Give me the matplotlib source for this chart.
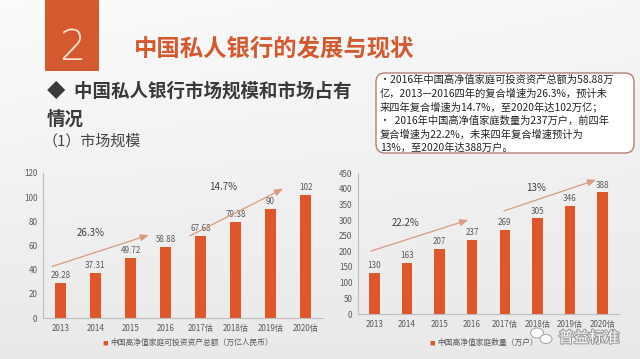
import matplotlib
matplotlib.use("Agg")
import matplotlib.pyplot as plt
import numpy as np
from matplotlib.patches import FancyBboxPatch, Rectangle, Ellipse
import matplotlib.patheffects as pe

plt.rcParams['font.family'] = ['Noto Sans CJK SC', 'DejaVu Sans']

# ---- data ----
years = ['2013', '2014', '2015', '2016', '2017估', '2018估', '2019估', '2020估']
assets = [29.28, 37.31, 49.72, 58.88, 67.68, 79.38, 90, 102]
asset_labels = ['29.28', '37.31', '49.72', '58.88', '67.68', '79.38', '90', '102']
households = [130, 163, 207, 237, 269, 305, 346, 388]
household_labels = ['130', '163', '207', '237', '269', '305', '346', '388']
asset_yticks = [0, 20, 40, 60, 80, 100, 120]
household_yticks = [0, 50, 100, 150, 200, 250, 300, 350, 400, 450]
asset_growth = ['26.3%', '14.7%']
household_growth = ['22.2%', '13%']
asset_legend = '中国高净值家庭可投资资产总额（万亿人民币）'
household_legend = '中国高净值家庭数量（万户）'

title = '中国私人银行的发展与现状'
heading1 = '◆  中国私人银行市场规模和市场占有'
heading2 = '情况'
sub = '（1）市场规模'
box_lines = [
    '•2016年中国高净值家庭可投资资产总额为58.88万',
    '亿，2013—2016四年的复合增速为26.3%，预计未',
    '来四年复合增速为14.7%，至2020年达102万亿；',
    '•  2016年中国高净值家庭数量为237万户，前四年',
    '复合增速为22.2%，未来四年复合增速预计为',
    '13%，至2020年达388万户。',
]

BAR = '#E0562B'
ORANGE = '#D5592E'
ARROW = '#D99A80'
GRAY = '#595959'

W, H = 640, 359
fig = plt.figure(figsize=(6.4, 3.59), dpi=100)

# background gradient
bg = fig.add_axes([0, 0, 1, 1])
bg.set_xlim(0, W)
bg.set_ylim(H, 0)
bg.axis('off')
yy = np.linspace(0, 1, 200)[:, None]
xx = np.linspace(0, 1, 200)[None, :]
grad = 0.985 - 0.07 * yy - 0.02 * xx * (1 - yy)
bg.imshow(np.dstack([grad] * 3), extent=[0, W, H, 0], aspect='auto', zorder=0)

# orange number box
bg.add_patch(Rectangle((45, 0), 54, 71, facecolor=ORANGE, edgecolor='none', zorder=1))
bg.text(72, 47, '2', color='#F6E0D6', fontsize=30, ha='center', va='center',
        family=['DejaVu Sans'], fontweight='light', zorder=2)
bg.text(134, 48, title, color=ORANGE, fontsize=16.8, fontweight='bold',
        ha='left', va='center', zorder=2)
bg.text(47, 91, heading1, color='#3a3a3a', fontsize=13.3, fontweight='bold',
        ha='left', va='center', zorder=2)
bg.text(47, 119, heading2, color='#3a3a3a', fontsize=13.3, fontweight='bold',
        ha='left', va='center', zorder=2)
bg.text(43, 141, sub, color='#444444', fontsize=10.8, ha='left', va='center', zorder=2)

# text box
bg.add_patch(FancyBboxPatch((376, 73), 258, 80, boxstyle='round,pad=0,rounding_size=9',
                            facecolor='white', edgecolor='#B27F70', linewidth=1.0, zorder=1))
for i, ln in enumerate(box_lines):
    bg.text(380, 80 + i * 13.6, ln, fontsize=7.4, color='#222222', ha='left',
            va='center', zorder=2)

# watermark
bg.add_patch(Ellipse((537, 333), 13, 10, facecolor='white', edgecolor='#aaaaaa', lw=0.8, zorder=5))
bg.add_patch(Ellipse((546, 339), 12, 9, facecolor='white', edgecolor='#aaaaaa', lw=0.8, zorder=5))
bg.text(589, 338, '普益标准', fontsize=11, color='white', ha='center', va='center', zorder=6,
        path_effects=[pe.withStroke(linewidth=1.5, foreground='#9a9a9a')])


def draw_chart(rect, values, labels, ymax, yticks, legend_text, arrows, growth, legend_x):
    ax = fig.add_axes(rect)
    ax.set_facecolor('none')
    x = np.arange(len(years))
    ax.bar(x, values, width=0.32, color=BAR, zorder=2)
    for xi, v, lab in zip(x, values, labels):
        ax.annotate(lab, (xi, v), xytext=(0, 2), textcoords='offset points',
                    ha='center', va='bottom', fontsize=5.8, color=GRAY)
    ax.set_xlim(-0.5, len(years) - 0.5)
    ax.set_ylim(0, ymax)
    ax.set_yticks(yticks)
    ax.set_yticklabels([str(t) for t in yticks])
    ax.set_xticks(x)
    ax.set_xticklabels(years)
    ax.tick_params(axis='both', length=0, labelsize=5.8, labelcolor=GRAY, pad=4)
    for s in ['top', 'right']:
        ax.spines[s].set_visible(False)
    for s in ['left', 'bottom']:
        ax.spines[s].set_color('#bdbdbd')
        ax.spines[s].set_linewidth(0.8)
    for p0, p1 in arrows:
        ax.annotate('', xy=p1, xytext=p0,
                    arrowprops=dict(arrowstyle='-|>,head_length=0.5,head_width=0.2',
                                    color=ARROW, lw=0.9), annotation_clip=False)
    for g, (tx, ty) in growth:
        ax.text(tx, ty, g, fontsize=7, color='#404040', ha='center', va='center')
    # legend
    fig.text(legend_x, 1 - 343 / H, '■', color=BAR, fontsize=4, ha='right', va='center')
    fig.text(legend_x + 0.003, 1 - 343 / H, legend_text, color=GRAY, fontsize=5.6,
             ha='left', va='center')
    return ax


draw_chart([43 / W, 1 - 318 / H, 280 / W, 145 / H], assets, asset_labels, 120,
           asset_yticks, asset_legend,
           [((-0.31, 42), (2.6, 69.4)), ((3.63, 67), (6.43, 108))],
           [(asset_growth[0], (0.86, 70)), (asset_growth[1], (4.65, 108))],
           108 / W)

draw_chart([358 / W, 1 - 314 / H, 261 / W, 141 / H], households, household_labels, 450,
           household_yticks, household_legend,
           [((-0.19, 198), (2.96, 303)), ((3.89, 326), (6.88, 431))],
           [(household_growth[0], (0.96, 290)), (household_growth[1], (4.97, 402))],
           435 / W)

fig.savefig('out.png', dpi=100)
